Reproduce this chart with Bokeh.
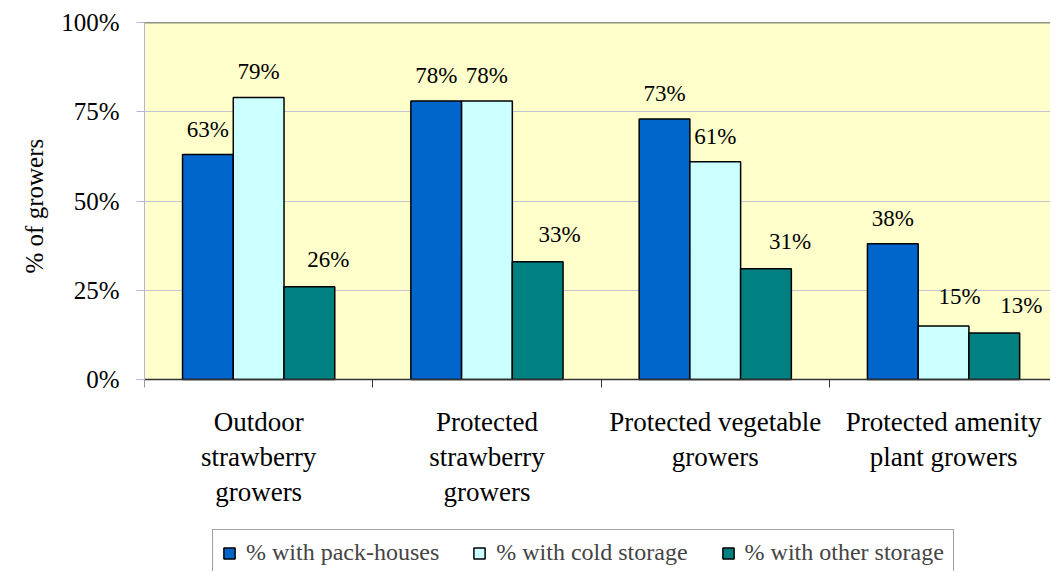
from bokeh.plotting import figure
from bokeh.models import (ColumnDataSource, FixedTicker, PrintfTickFormatter, Range1d,
                          Span, Legend, LegendItem, LabelSet, BoxAnnotation, Title)
from bokeh.embed import file_html
from bokeh.resources import INLINE

categories = ["Outdoor\nstrawberry\ngrowers", "Protected\nstrawberry\ngrowers",
              "Protected vegetable\ngrowers", "Protected amenity\nplant growers"]
series_names = ["% with pack-houses", "% with cold storage", "% with other storage"]
pack_houses = [63, 78, 73, 38]
cold_storage = [79, 78, 61, 15]
other_storage = [26, 33, 31, 13]
y_ticks = [0, 25, 50, 75, 100]
y_title = "% of growers"

# label nudges in screen px (styling, not data)
label_dx = [[0, 0, 0, 0], [0, 0, 0, 16], [19, 22, 24, 27]]
label_dy = [[18, 18, 18, 18], [18, 18, 18, 22], [20, 20, 20, 20]]

colors = ["#0066CC", "#CCFFFF", "#008080"]
FONT = "Liberation Serif"

n = len(categories)
bar_w = 1.0 / (3 + 1.5)
dodges = [-bar_w, 0.0, bar_w]

# frame: 906 x 549 px; value axis 0..100 occupies the top 357 px
FRAME_H = 549
PLOT_H = 357
y_lo = -(FRAME_H - PLOT_H) * 100.0 / PLOT_H

p = figure(frame_width=906, frame_height=FRAME_H, output_backend="svg", toolbar_location=None,
           x_range=Range1d(0, 906 / 228.3), y_range=Range1d(y_lo, 100),
           min_border_left=144, min_border_right=0, min_border_top=22, min_border_bottom=0)
p.background_fill_color = "white"
p.border_fill_color = "white"
p.outline_line_color = None

bg = BoxAnnotation(bottom=0, top=100, fill_color="#FFFFCC", fill_alpha=1.0,
                   line_color=None, level="underlay")
p.add_layout(bg)
p.center = [bg] + [c for c in p.center if c is not bg]

renderers = []
for k, vals in enumerate([pack_houses, cold_storage, other_storage]):
    xs = [i + 0.5 + dodges[k] for i in range(n)]
    src = ColumnDataSource(dict(x=xs, top=vals, lab=[f"{v}%" for v in vals],
                                dx=label_dx[k], dy=label_dy[k]))
    r = p.vbar(x="x", top="top", bottom=0, width=bar_w, source=src,
               fill_color=colors[k], line_color="black", line_width=1.5)
    renderers.append(r)
    p.add_layout(LabelSet(x="x", y="top", text="lab", source=src, x_offset="dx", y_offset="dy",
                          text_align="center", text_baseline="alphabetic",
                          text_font=FONT, text_font_size="23px", text_color="black"))

p.add_layout(Span(location=100, dimension="width", line_color="#222222", line_width=1.5))

# x axis (drawn at value 0)
xa = p.xaxis[0]
xa.fixed_location = 0
xa.ticker = FixedTicker(ticks=[i + 0.5 for i in range(n)], minor_ticks=list(range(n + 1)))
xa.major_label_overrides = {i + 0.5: c for i, c in enumerate(categories)}
xa.major_tick_line_color = None
xa.major_tick_in = 0
xa.major_tick_out = 0
xa.minor_tick_in = 0
xa.minor_tick_out = 8
xa.minor_tick_line_color = "#333333"
xa.axis_line_color = "#333333"
xa.axis_line_width = 1.5
xa.major_label_text_font = FONT
xa.major_label_text_font_size = "27px"
xa.major_label_text_line_height = 1.18
xa.major_label_standoff = 19
xa.major_label_text_color = "black"

# y axis
ya = p.yaxis[0]
ya.bounds = (0, 100)
ya.ticker = FixedTicker(ticks=y_ticks)
ya.formatter = PrintfTickFormatter(format="%d%%")
ya.axis_line_color = "#B4B4DC"
ya.major_tick_line_color = "#B4B4DC"
ya.major_tick_in = 0
ya.major_tick_out = 8
ya.minor_tick_line_color = None
ya.major_label_text_font = FONT
ya.major_label_text_font_size = "25px"
ya.major_label_standoff = 17
ya.major_label_text_color = "black"

# y-axis title, anchored from the frame bottom so it sits centred on the 0..100 part
ttl = Title(text=y_title, align="left", offset=(FRAME_H - PLOT_H) + (PLOT_H - 145) / 2.0,
            text_font=FONT, text_font_size="25px", text_font_style="normal",
            text_color="black")
try:
    ttl.standoff = 22
except Exception:
    pass
p.add_layout(ttl, "left")

p.xgrid.grid_line_color = None
p.ygrid.grid_line_color = "#C4C4D0"
p.ygrid.ticker = FixedTicker(ticks=y_ticks[1:-1])

legend = Legend(items=[LegendItem(label=series_names[k], renderers=[renderers[k]]) for k in range(3)],
                orientation="horizontal", location=(68, -5), margin=0,
                padding=9, spacing=33, label_standoff=10,
                glyph_width=14, glyph_height=14, label_height=20,
                label_text_font=FONT, label_text_font_size="24px",
                border_line_color="#444444", border_line_width=1.5,
                background_fill_color="white", background_fill_alpha=1.0)
p.add_layout(legend, "center")

open("out.html", "w").write(file_html(p, INLINE))
